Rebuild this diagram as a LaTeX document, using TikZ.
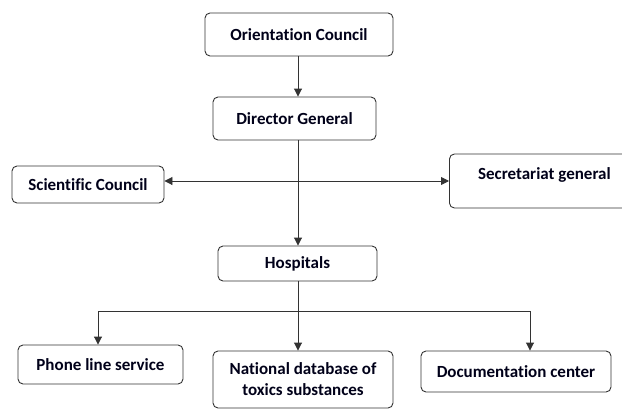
\documentclass[tikz,border=0pt]{standalone}
\usepackage{fontspec}
\setmainfont[Ligatures=NoCommon]{Carlito}
\usetikzlibrary{arrows.meta}
\begin{document}
\begin{tikzpicture}[x=1pt,y=-1pt,
  box/.style={draw=black!80,line width=0.9pt,rounded corners=5pt,fill=white,
    inner sep=0pt,align=center,font=\fontsize{17}{21}\selectfont\bfseries,text=black!90!blue},
  conn/.style={draw=black!80,line width=0.9pt},
  tip/.tip={Triangle[length=8pt,width=8pt]},
  arr/.style={conn,-tip}]
\useasboundingbox (0,0) rectangle (622,410);
\clip (0,0) rectangle (622,410);
\node[box,minimum width=188,minimum height=43] (oc) at (299,34.5) {Orientation Council};
\node[box,minimum width=163,minimum height=43] (dg) at (294.5,118.5) {Director General};
\node[box,minimum width=152,minimum height=37] (sc) at (88,184.5) {Scientific Council};
\node[box,minimum width=190,text height=25pt,text depth=29pt,anchor=west] (sec) at (449,181) {Secretariat general};
\node[box,minimum width=159,minimum height=35] (hosp) at (297.5,263.5) {Hospitals};
\node[box,minimum width=165,minimum height=39] (phone) at (100.5,364.5) {Phone line service};
\node[box,minimum width=180,minimum height=57] (nat) at (303,379.5) {National database of\\toxics substances};
\node[box,minimum width=190,minimum height=41] (doc) at (516,371.5) {Documentation center};
\coordinate (trunk) at (298,181);
\coordinate (split) at (298,311);
\coordinate (docin) at (530,311);
\draw[arr] (oc.south -| trunk) -- (trunk |- dg.north);
\draw[arr] (trunk |- dg.south) -- (trunk |- hosp.north);
\draw[conn,tip-tip] (sc.east |- trunk) -- (sec.west |- trunk);
\draw[conn] (trunk |- hosp.south) -- (split);
\draw[arr] (split) -- (split |- nat.north);
\draw[arr] (split) -| ([xshift=-2.5pt]phone.north);
\draw[arr] (split) -- (docin) -- (docin |- doc.north);
\end{tikzpicture}
\end{document}
